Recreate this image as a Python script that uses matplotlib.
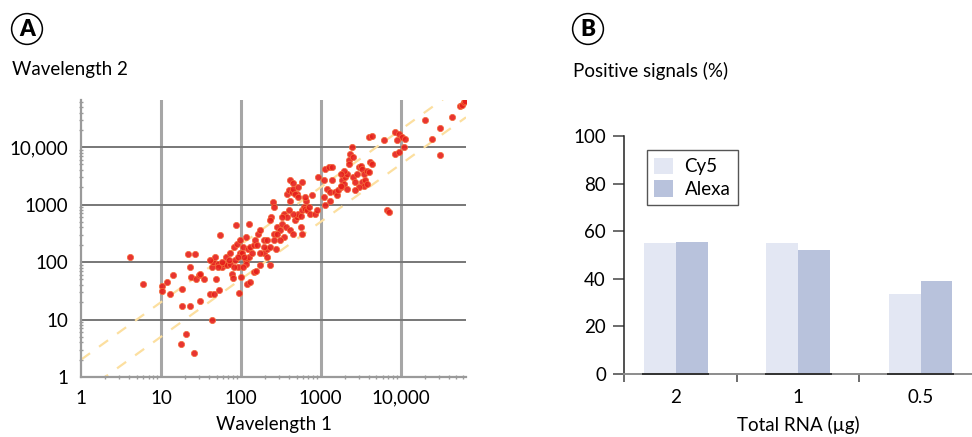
import numpy as np
import matplotlib
matplotlib.use("Agg")
import matplotlib.pyplot as plt
from matplotlib.ticker import FixedLocator, LogLocator, NullFormatter

plt.rcParams['font.family'] = ['Lato', 'DejaVu Sans']

# ---- panel A: scatter, log10 of the signal ----
log_w1 = [
    0.61, 0.78, 1.02, 1.02, 1.08, 1.11, 1.15, 1.26, 1.25, 1.31, 1.41, 1.37, 1.49, 1.64,
    1.34, 1.43, 1.26, 1.36, 1.38, 1.44, 1.48, 1.54, 1.49, 1.61, 1.66, 1.64, 1.65, 1.69,
    1.71, 1.73, 1.74, 1.68, 1.62, 1.76, 1.79, 1.81, 1.83, 1.86, 1.89, 1.90, 1.94, 1.93,
    1.96, 1.98, 2.00, 1.99, 2.03, 2.06, 2.09, 2.10, 2.06, 2.10, 2.07, 2.03, 2.08, 2.11,
    2.16, 2.19, 2.14,
    1.91, 1.95, 1.99, 2.02, 2.04, 1.97, 1.87, 1.85, 1.76, 1.72, 1.91, 2.12, 2.16, 2.18,
    2.24, 2.29, 2.33,
    2.21, 2.24, 2.29, 2.33, 2.20, 2.37, 2.41, 2.44, 2.38, 2.40, 2.37, 2.45, 2.49, 2.52,
    2.54, 2.58, 2.54, 2.57, 2.62, 2.66, 2.68, 2.70, 2.72, 2.77, 2.79, 2.81, 2.83, 2.85,
    2.87, 2.82, 2.80, 2.75, 2.66, 2.62, 2.58, 2.60, 2.64, 2.66, 2.70, 2.72, 2.77, 2.62,
    2.66, 2.68, 2.72, 2.61, 2.52, 2.45, 2.49, 2.41, 2.29, 2.24, 2.33, 2.37, 2.41, 2.75,
    2.77,
    2.93, 2.95, 2.89, 3.04, 3.06, 3.12, 2.97, 3.06, 3.10, 3.14, 3.04, 3.08, 3.12, 3.18,
    3.20, 3.22, 3.25, 3.27, 3.29, 3.31, 3.33, 3.29, 3.25, 3.35, 3.37, 3.39, 3.41, 3.36,
    3.41, 3.43, 3.45, 3.48, 3.50, 3.52, 3.54, 3.52, 3.54, 3.56, 3.58, 3.60, 3.62, 3.64,
    3.58, 3.48, 3.43, 3.33, 3.25, 3.14, 3.60, 3.64, 3.79, 3.83, 3.85,
    3.93, 3.98, 4.02, 4.06, 4.04, 3.95, 3.93, 3.98, 4.31, 4.39, 4.50, 4.50, 4.65, 4.75,
    4.77, 4.79, 4.81,
]
log_w2 = [
    2.09, 1.62, 1.59, 1.49, 1.65, 1.45, 1.77, 1.24, 0.58, 0.74, 0.41, 1.23, 1.33, 1.00,
    2.14, 2.14, 1.53, 1.92, 1.74, 1.71, 1.77, 1.71, 1.80, 1.45, 1.44, 1.92, 2.00, 1.71,
    1.97, 1.51, 2.47, 2.09, 2.03, 1.92, 1.97, 2.09, 1.95, 2.15, 1.80, 1.72, 2.64, 2.03,
    1.92, 1.47, 1.74, 2.15, 2.26, 2.43, 2.23, 2.67, 2.03, 2.09, 1.97, 1.92, 1.61, 1.66,
    1.83, 1.85, 2.15,
    2.26, 2.32, 2.38, 2.15, 2.09, 2.09, 1.97, 2.03, 2.00, 1.92, 1.92, 2.26, 2.29, 2.38,
    1.95, 2.15, 2.23,
    2.49, 2.55, 2.39, 2.38, 2.29, 2.26, 2.49, 2.23, 2.78, 3.04, 2.73, 2.61, 2.55, 2.67,
    2.84, 2.78, 2.44, 2.61, 2.55, 2.49, 2.73, 2.78, 2.84, 2.90, 2.96, 2.93, 2.90, 2.96,
    2.84, 3.07, 3.13, 2.81, 2.84, 3.07, 3.19, 3.25, 3.22, 3.28, 3.19, 3.31, 3.39, 3.42,
    3.37, 3.19, 3.13, 2.90, 2.78, 2.49, 2.38, 2.38, 2.26, 2.15, 2.09, 1.95, 2.96, 2.61,
    2.49,
    2.84, 2.90, 3.16, 3.13, 2.99, 3.07, 3.48, 3.62, 3.65, 3.65, 3.42, 3.28, 3.22, 3.22,
    3.16, 3.25, 3.31, 3.42, 3.36, 3.48, 3.54, 3.59, 3.54, 3.77, 3.88, 4.00, 3.83, 3.71,
    3.48, 3.39, 3.54, 3.65, 3.68, 3.62, 3.54, 3.39, 3.33, 3.42, 3.59, 3.57, 3.74, 3.71,
    3.36, 3.31, 3.25, 3.28, 3.33, 3.42, 4.17, 4.20, 4.12, 2.90, 2.87,
    4.26, 4.23, 4.17, 4.14, 4.00, 4.12, 3.88, 3.91, 4.48, 4.14, 4.33, 3.87, 4.52, 4.72,
    4.74, 4.78, 4.81,
]
fold_limits = [2.0, 0.5]
log_ticks = [1, 10, 100, 1000, 10000]
log_tick_labels = ['1', '10', '100', '1000', '10,000']

# ---- panel B: bars ----
rna_amounts = ['2', '1', '0.5']
cy5 = [55, 55, 33.5]
alexa = [55.5, 52, 39]

W, H = 972, 437
fig = plt.figure(figsize=(W / 100, H / 100), dpi=100)

def fx(px):
    return px / W

def fy(py):
    return 1 - py / H

fs = 13.5

# --- scatter panel ---
ax1 = fig.add_axes([fx(81), fy(377), fx(466) - fx(81), fy(100) - fy(377)])
top = 10 ** 4.82
ax1.set_xscale('log')
ax1.set_yscale('log')
ax1.set_xlim(1, top)
ax1.set_ylim(1, top)

for lv in log_ticks[1:]:
    ax1.axvline(lv, color='#a6a6a6', lw=2.2, zorder=1)
for lv in log_ticks[1:]:
    ax1.axhline(lv, color='#777777', lw=1.4, zorder=1)

xx = np.array([1, top])
for f in fold_limits:
    ax1.plot(xx, xx * f, color='#fcdf9f', lw=1.6, dashes=(5, 5), zorder=2)

ax1.scatter(10 ** np.array(log_w1), 10 ** np.array(log_w2), s=20, color='#e61e1a',
            edgecolors='#f46a3a', linewidths=0.6, alpha=0.9, zorder=3)

for side in ['top', 'right']:
    ax1.spines[side].set_visible(False)
for side in ['left', 'bottom']:
    ax1.spines[side].set_color('#9a9a9a')
    ax1.spines[side].set_linewidth(1.6)

ax1.xaxis.set_major_locator(FixedLocator(log_ticks))
ax1.yaxis.set_major_locator(FixedLocator(log_ticks))
ax1.set_xticklabels(log_tick_labels)
ax1.set_yticklabels(log_tick_labels)
ax1.xaxis.set_minor_locator(LogLocator(base=10, subs=np.arange(2, 10), numticks=20))
ax1.yaxis.set_minor_locator(LogLocator(base=10, subs=np.arange(2, 10), numticks=20))
ax1.xaxis.set_minor_formatter(NullFormatter())
ax1.yaxis.set_minor_formatter(NullFormatter())
ax1.tick_params(which='major', length=0, labelsize=fs, pad=9)
ax1.tick_params(which='minor', length=3, width=1, color='#9a9a9a', direction='inout')
ax1.set_xlabel('Wavelength 1', fontsize=fs, labelpad=7)

fig.text(fx(12), fy(70), 'Wavelength 2', fontsize=fs, ha='left', va='center')

# --- bar panel ---
ax2 = fig.add_axes([fx(624), fy(373.7), 1 - fx(624), fy(136) - fy(373.7)])
pos = np.arange(len(rna_amounts))
bw = 0.26
ax2.bar(pos - bw / 2, cy5, bw, color='#e3e7f3', label='Cy5', zorder=2)
ax2.bar(pos + bw / 2, alexa, bw, color='#b8c2dc', label='Alexa', zorder=2)
ax2.set_xlim(-0.424, 2.42)
ax2.set_ylim(0, 100)

for p in pos:
    ax2.plot([p - bw * 1.05, p + bw * 1.05], [0, 0], color='#333333', lw=1.4,
             zorder=4, clip_on=False, solid_capstyle='butt')

ax2.spines['top'].set_visible(False)
ax2.spines['right'].set_visible(False)
ax2.spines['left'].set_color('#222222')
ax2.spines['left'].set_linewidth(1.1)
ax2.spines['bottom'].set_color('#8c8c8c')
ax2.spines['bottom'].set_linewidth(1.4)
ax2.spines['bottom'].set_zorder(3)

ax2.set_yticks(np.arange(0, 101, 20))
ax2.tick_params(axis='y', length=8, width=1.1, color='#444444', labelsize=fs, pad=5)
ax2.set_xticks(pos)
ax2.set_xticklabels(rna_amounts)
ax2.tick_params(axis='x', which='major', length=0, labelsize=fs, pad=11)
ax2.set_xticks([-0.424, 0.5, 1.5], minor=True)
ax2.tick_params(axis='x', which='minor', length=6, width=1.1, color='#444444')
ax2.set_xlabel('Total RNA (µg)', fontsize=fs, labelpad=7)

leg = ax2.legend(loc='upper left', bbox_to_anchor=(0.066, 0.941), fontsize=fs,
                 frameon=True, fancybox=False, framealpha=1, edgecolor='#555555',
                 handlelength=1.0, handleheight=1.0, handletextpad=0.6,
                 borderpad=0.4, labelspacing=0.25, borderaxespad=0)
leg.get_frame().set_linewidth(1.0)

fig.text(fx(573), fy(71), 'Positive signals (%)', fontsize=fs, ha='left', va='center')

# circled panel letters
for letter, cx in [('A', 27), ('B', 588)]:
    fig.text(fx(cx), fy(29), letter, fontsize=16, fontweight='heavy', ha='center',
             va='center', bbox=dict(boxstyle='circle,pad=0.22', fc='white',
                                    ec='black', lw=1.1))

fig.savefig('out.png', dpi=100)
